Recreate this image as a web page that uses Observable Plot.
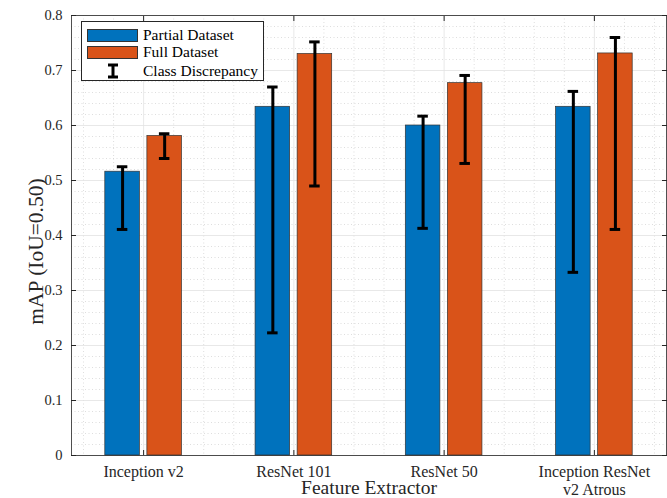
<!DOCTYPE html>
<html><head><meta charset="utf-8">
<script src="https://cdn.jsdelivr.net/npm/d3@7"></script>
<script src="https://cdn.jsdelivr.net/npm/@observablehq/plot@0.6"></script>
<style>
body{margin:0;background:#fff;}
#wrap{position:relative;width:667px;height:498px;font-family:"Liberation Serif",serif;}
#legend{position:absolute;left:81px;top:21px;width:183px;height:60px;border:1px solid #262626;background:#fff;box-sizing:border-box;font-size:15.5px;color:#000;}
.row{position:absolute;left:5px;height:16px;display:flex;align-items:center;}
.sw{width:51px;height:13px;border:1px solid #333;box-sizing:border-box;margin-right:5px;}
.eb{width:51px;height:16px;margin-right:5px;position:relative;}
</style></head>
<body><div id="wrap"><div id="legend">
<div class="row" style="top:5px"><div class="sw" style="background:#0072BD"></div>Partial Dataset</div>
<div class="row" style="top:22px"><div class="sw" style="background:#D95319"></div>Full Dataset</div>
<div class="row" style="top:41px"><div class="eb"><svg width="51" height="16"><line x1="26" x2="26" y1="2" y2="14" stroke="#000" stroke-width="3"/><line x1="21" x2="31" y1="2" y2="2" stroke="#000" stroke-width="3"/><line x1="21" x2="31" y1="14" y2="14" stroke="#000" stroke-width="3"/></svg></div>Class Discrepancy</div>
</div></div>
<script>
const categories = ["Inception v2", "ResNet 101", "ResNet 50", "Inception ResNet\nv2 Atrous"];
const series = ["Partial Dataset", "Full Dataset"];
const partialValues = [0.516, 0.634, 0.600, 0.634];
const fullValues = [0.581, 0.730, 0.677, 0.731];
const partialErrLow = [0.411, 0.223, 0.413, 0.333];
const partialErrHigh = [0.525, 0.670, 0.617, 0.662];
const fullErrLow = [0.540, 0.490, 0.531, 0.411];
const fullErrHigh = [0.585, 0.752, 0.691, 0.760];
const yTicks = [0, 0.1, 0.2, 0.3, 0.4, 0.5, 0.6, 0.7, 0.8];
const colors = ["#0072BD", "#D95319"];
const xLabel = "Feature Extractor";
const yLabel = "mAP (IoU=0.50)";

const offset = 0.14, halfW = 0.115, capHalf = 0.035;
const rows = [];
categories.forEach((c, i) => {
  rows.push({i: i + 1, s: 0, v: partialValues[i], lo: partialErrLow[i], hi: partialErrHigh[i]});
  rows.push({i: i + 1, s: 1, v: fullValues[i], lo: fullErrLow[i], hi: fullErrHigh[i]});
});
const pos = d => d.i + (d.s === 0 ? -offset : offset);
const minorY = d3.range(0, 0.8001, 0.02).filter(v => Math.abs(v * 10 - Math.round(v * 10)) > 1e-6);
const minorX = d3.range(0.6, 4.4001, 0.2).filter(v => Math.abs(v - Math.round(v)) > 1e-6);
const majorX = categories.map((c, i) => i + 1);

const chart = Plot.plot({
  width: 667, height: 498,
  marginLeft: 71, marginRight: 1, marginTop: 15, marginBottom: 43,
  style: {fontFamily: "Liberation Serif, serif", color: "#262626", background: "#fff"},
  x: {domain: [0.52, 4.48]},
  y: {domain: [0, 0.8]},
  marks: [
    Plot.ruleY(minorY, {stroke: "#c8c8c8", strokeDasharray: "1,2.5", strokeWidth: 0.6}),
    Plot.ruleX(minorX, {stroke: "#c8c8c8", strokeDasharray: "1,2.5", strokeWidth: 0.6}),
    Plot.ruleY(yTicks, {stroke: "#e2e2e2", strokeWidth: 0.8}),
    Plot.ruleX(majorX, {stroke: "#e2e2e2", strokeWidth: 0.8}),
    Plot.rectY(rows, {x1: d => pos(d) - halfW, x2: d => pos(d) + halfW, y1: 0, y2: "v", fill: d => colors[d.s], stroke: "#333", strokeWidth: 0.7}),
    Plot.ruleX(rows, {x: pos, y1: "lo", y2: "hi", stroke: "#000", strokeWidth: 3}),
    Plot.ruleY(rows, {x1: d => pos(d) - capHalf, x2: d => pos(d) + capHalf, y: "lo", stroke: "#000", strokeWidth: 3}),
    Plot.ruleY(rows, {x1: d => pos(d) - capHalf, x2: d => pos(d) + capHalf, y: "hi", stroke: "#000", strokeWidth: 3}),
    Plot.axisY({ticks: yTicks, tickSize: -5, text: null, label: null, stroke: "#262626"}),
    Plot.axisY({ticks: yTicks, anchor: "right", tickSize: -5, text: null, label: null, stroke: "#262626"}),
    Plot.axisY({ticks: yTicks, tickSize: 0, tickPadding: 9, tickFormat: d => String(d), fill: "#262626", label: null}),
    Plot.axisX({ticks: majorX, tickSize: -5, text: null, label: null, stroke: "#262626"}),
    Plot.axisX({ticks: majorX, anchor: "top", tickSize: -5, text: null, label: null, stroke: "#262626"}),
    Plot.axisX({ticks: majorX, tickSize: 0, tickPadding: 9, tickFormat: d => categories[d - 1], fill: "#262626", label: null, lineHeight: 1.1}),
    Plot.text([xLabel], {text: d => d, frameAnchor: "bottom", textAnchor: "middle", dy: 32, lineAnchor: "middle", fill: "#262626", fontSize: 19.5}),
    Plot.text([yLabel], {text: d => d, frameAnchor: "left", textAnchor: "middle", rotate: -90, dx: -35, dy: 16, lineAnchor: "middle", fill: "#262626", fontSize: 21.5}),
    Plot.frame({stroke: "#262626", strokeWidth: 0.8})
  ]
});
d3.select(chart).selectAll("[aria-label='y-axis tick label'] text").style("font-size", "14.5px");
d3.select(chart).selectAll("[aria-label='x-axis tick label'] text").style("font-size", "16px");
document.getElementById("wrap").prepend(chart);
</script></body></html>
